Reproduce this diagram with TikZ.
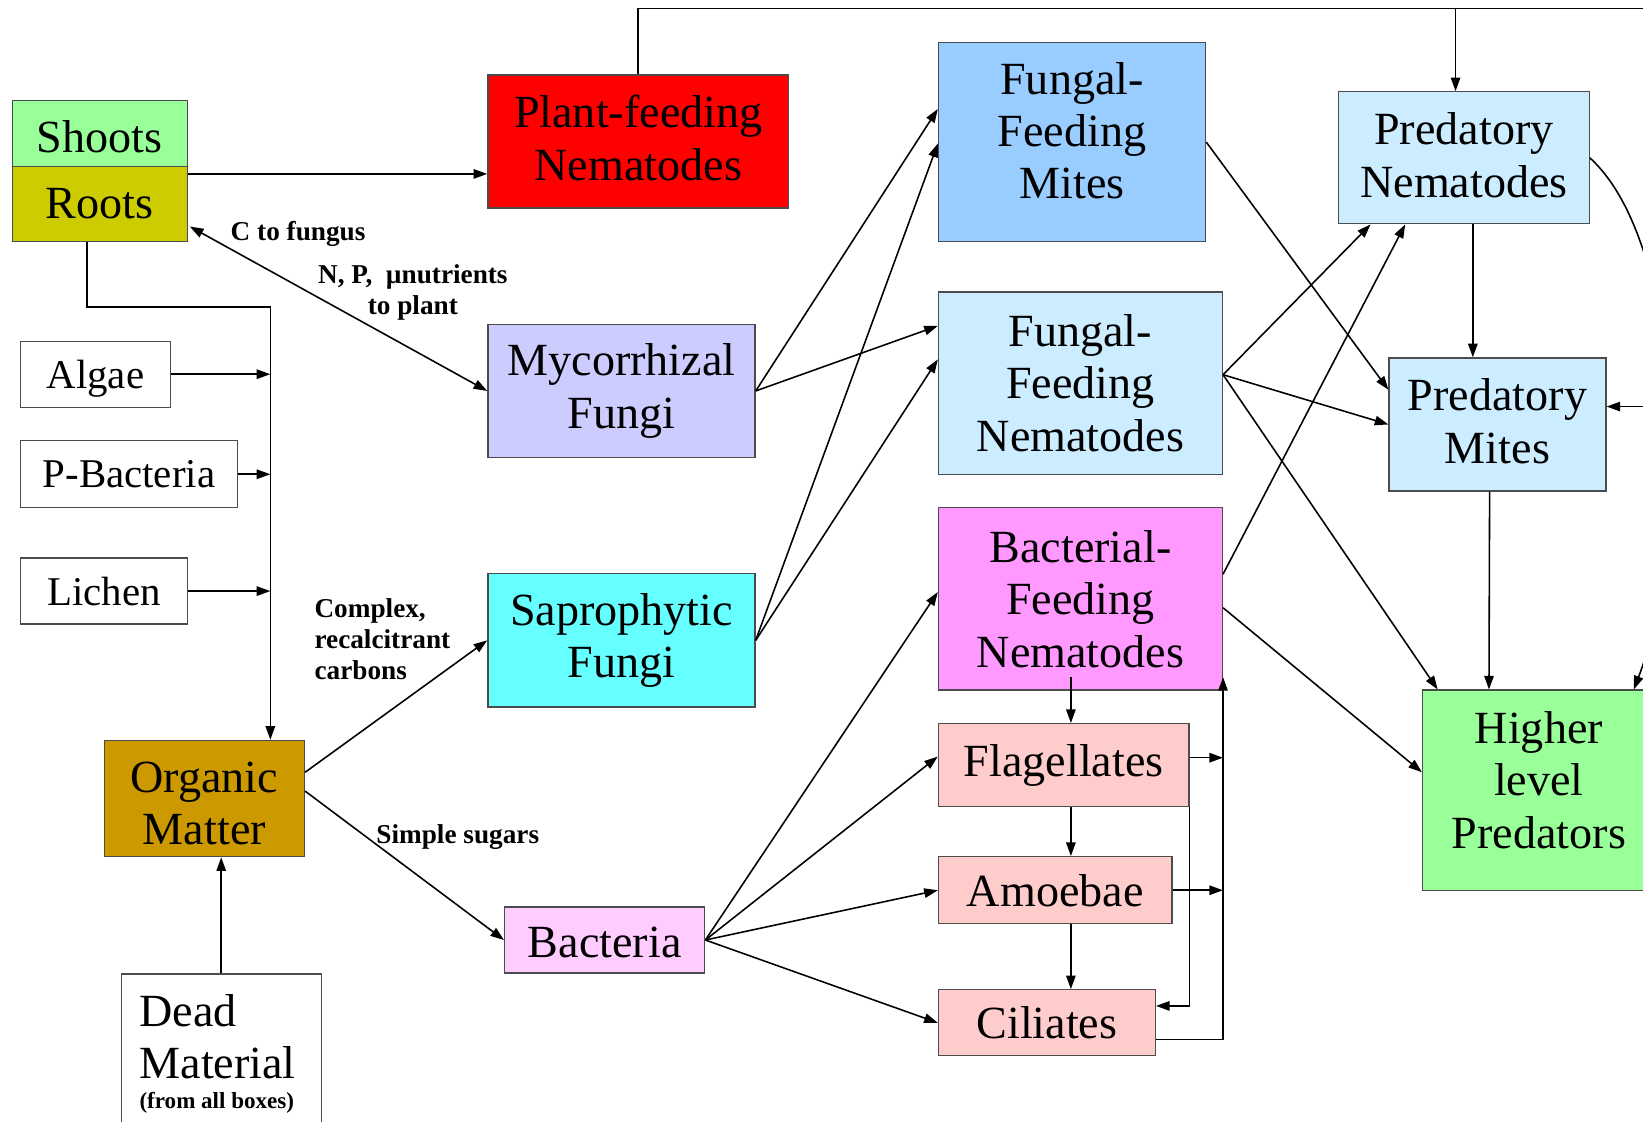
\documentclass[tikz,border=0pt]{standalone}
\usepackage{fontspec}
\setmainfont{Liberation Serif}
\usetikzlibrary{arrows.meta,calc}
\definecolor{shootc}{HTML}{99FF99}
\definecolor{rootc}{HTML}{CCCC00}
\definecolor{redc}{HTML}{FF0000}
\definecolor{ffmc}{HTML}{99CCFF}
\definecolor{paleblue}{HTML}{CCECFF}
\definecolor{mycc}{HTML}{CCCCFF}
\definecolor{sapc}{HTML}{66FFFF}
\definecolor{bfnc}{HTML}{FF99FF}
\definecolor{omc}{HTML}{CC9900}
\definecolor{protc}{HTML}{FFCCCC}
\definecolor{bactc}{HTML}{FFCCFF}
\begin{document}
\begin{tikzpicture}[x=1pt,y=-1pt,
  box/.style={draw=black!70, line width=1.2pt, inner sep=0pt, anchor=north west,
    align=center, font=\fontsize{44}{50}\selectfont},
  smallbox/.style={box, font=\fontsize{39}{45}\selectfont},
  arr/.style={line width=1.5pt, -{Triangle[length=13pt,width=9pt]}},
  darr/.style={line width=1.5pt, {Triangle[length=13pt,width=9pt]}-{Triangle[length=13pt,width=9pt]}},
  plain/.style={line width=1.5pt},
  lbl/.style={font=\bfseries\fontsize{26}{30}\selectfont, inner sep=0pt}]
\useasboundingbox (0,0) rectangle (1568,1070);
\fill[white] (0,0) rectangle (1568,1070);
\clip (0,0) rectangle (1568,1070);

% boxes
\node[box, fill=shootc, minimum width=167pt, minimum height=63pt] (Shoots) at (11,95) {\rule{0pt}{38pt}Shoots};
\node[box, fill=rootc, minimum width=167pt, minimum height=72pt] (Roots) at (11,158) {Roots};
\node[box, fill=redc, minimum width=287pt, minimum height=127pt] (PFN) at (465,71) {Plant-feeding\\Nematodes\rule[-7pt]{0pt}{0pt}};
\node[box, fill=ffmc, minimum width=255pt, minimum height=190pt] (FFM) at (895,40) {Fungal-\\Feeding\\Mites\rule[-22pt]{0pt}{0pt}};
\node[box, fill=paleblue, minimum width=239pt, minimum height=126pt] (PN) at (1277,87) {Predatory\\Nematodes\rule[-5pt]{0pt}{0pt}};
\node[box, fill=paleblue, minimum width=271pt, minimum height=174pt] (FFN) at (895,278) {Fungal-\\Feeding\\Nematodes};
\node[box, fill=paleblue, minimum width=207pt, minimum height=127pt] (PM) at (1325,341) {Predatory\\Mites\rule[-7pt]{0pt}{0pt}};
\node[box, fill=mycc, minimum width=255pt, minimum height=127pt] (Myc) at (465,309) {Mycorrhizal\\Fungi};
\node[smallbox, fill=white, minimum width=143pt, minimum height=63pt] (Algae) at (19,325) {\rule{0pt}{36pt}Algae};
\node[smallbox, fill=white, minimum width=207pt, minimum height=64pt] (PBac) at (19,420) {P-Bacteria};
\node[smallbox, fill=white, minimum width=159pt, minimum height=63pt] (Lichen) at (19,532) {Lichen};
\node[box, fill=sapc, minimum width=255pt, minimum height=127pt] (Sap) at (465,547) {Saprophytic\\Fungi};
\node[box, fill=bfnc, minimum width=271pt, minimum height=174pt] (BFN) at (895,484) {Bacterial-\\Feeding\\Nematodes};
\node[box, fill=omc, minimum width=191pt, minimum height=111pt] (OM) at (99,706) {\rule{0pt}{38pt}Organic\\Matter};
\node[box, fill=protc, minimum width=239pt, minimum height=79pt] (Flag) at (895,690) {Flagellates};
\node[box, fill=protc, minimum width=223pt, minimum height=64pt] (Amoeb) at (895,817) {Amoebae};
\node[box, fill=protc, minimum width=207pt, minimum height=63pt] (Cil) at (895,944) {Ciliates};
\node[box, fill=bactc, minimum width=191pt, minimum height=63pt] (Bact) at (481,865) {\rule{0pt}{34pt}Bacteria};
\node[box, fill=shootc, minimum width=222pt, minimum height=191pt] (HLP) at (1357,658) {Higher\\level\\Predators\rule[-20pt]{0pt}{0pt}};
\node[box, fill=white, minimum width=191pt, minimum height=170pt] (Dead) at (115,929) {};
\node[anchor=north west, align=left, inner sep=0pt, font=\fontsize{44}{50}\selectfont] (DeadT) at (133,949)
  {Dead\\Material\\[-22pt]{\bfseries\fontsize{22}{26}\selectfont (from all boxes)}};

% labels
\node[lbl, anchor=west] (lC) at (220,223) {C to fungus};
\node[lbl, align=center] (lN) at (394,279) {N, P,\ \ µnutrients\\to plant};
\node[lbl, align=left, anchor=west] (lCx) at (300,610) {Complex,\\recalcitrant\\carbons};
\node[lbl, anchor=west] (lS) at (359,799) {Simple sugars};

% helper coordinates
\coordinate (trunktop) at (258,293);
\coordinate (topR) at (1600,8);
\coordinate (pnin) at ($(PN.north)+(-8,0)$);
\coordinate (pmR) at (1600,388);
\coordinate (colx) at (1022,0);
\coordinate (rail) at (BFN.south east);

% connectors
\draw[arr] ($(Roots.north east)+(0,8)$) -- ($(PFN.north west)+(0,95)$);
\draw[darr] ($(Roots.south east)+(2,-15)$) -- (Myc.west);
\draw[arr] ($(Roots.south west)+(72,0)$) |- (trunktop) -- (trunktop |- OM.north);
\draw[arr] (Algae.east) -- (Algae.east -| trunktop);
\draw[arr] (PBac.east) -- (PBac.east -| trunktop);
\draw[arr] (Lichen.east) -- (Lichen.east -| trunktop);
\draw[arr] ($(OM.north east)+(0,31)$) -- (Sap.west);
\draw[arr] ($(OM.north east)+(0,49)$) -- (Bact.west);
\draw[arr] (Dead.north) -- (Dead.north |- OM.south);

\draw[plain] (PFN.north) |- (topR);
\draw[arr] (pnin |- topR) -- (pnin);

\draw[arr] (Myc.east) -- ($(FFM.north west)+(0,64)$);
\draw[arr] (Myc.east) -- ($(FFN.north west)+(0,33)$);
\draw[arr] (Sap.east) -- ($(FFM.north west)+(0,97)$);
\draw[arr] (Sap.east) -- ($(FFN.north west)+(0,65)$);

\draw[arr] (FFM.east) -- ($(PM.north west)+(0,31)$);
\draw[arr] ($(FFN.east)+(0,-8)$) -- ($(PN.south west)+(31,0)$);
\draw[arr] ($(FFN.east)+(0,-8)$) -- (PM.west);
\draw[arr] ($(FFN.east)+(0,-8)$) -- ($(HLP.north west)+(15,0)$);
\draw[arr] ($(BFN.north east)+(0,64)$) -- ($(PN.south west)+(64,0)$);
\draw[arr] ($(BFN.north east)+(0,96)$) -- ($(HLP.north west)+(0,79)$);

\draw[arr] ($(PN.south)+(8.5,0)$) -- ($(PM.north)+(-23.5,0)$);
\draw[arr] ($(PM.south)+(-7.5,0)$) -- ($(HLP.north west)+(64,0)$);
\draw[arr] (PN.east) .. controls (1610,235) and (1612,520) .. ($(HLP.north east)+(-21,0)$);
\draw[arr] (pmR) -- (pmR -| PM.east);

\draw[arr] (Bact.east) -- ($(BFN.north west)+(0,81)$);
\draw[arr] (Bact.east) -- ($(Flag.north west)+(0,32)$);
\draw[arr] (Bact.east) -- (Amoeb.west);
\draw[arr] (Bact.east) -- (Cil.west);

\draw[arr] ($(colx |- BFN.south)+(0,-13)$) -- (colx |- Flag.north);
\draw[arr] (colx |- Flag.south) -- (colx |- Amoeb.north);
\draw[arr] (colx |- Amoeb.south) -- (colx |- Cil.north);
\draw[arr] ($(Flag.east)+(0,-7)$) coordinate (f1) -- (f1 -| rail);
\draw[arr] (Amoeb.east) -- (Amoeb.east -| rail);
\draw[arr] ($(Cil.south east)+(0,-16)$) -| ($(rail)+(0,-13)$);
\draw[arr] (Flag.south east) |- ($(Cil.north east)+(0,16)$);
\end{tikzpicture}
\end{document}
